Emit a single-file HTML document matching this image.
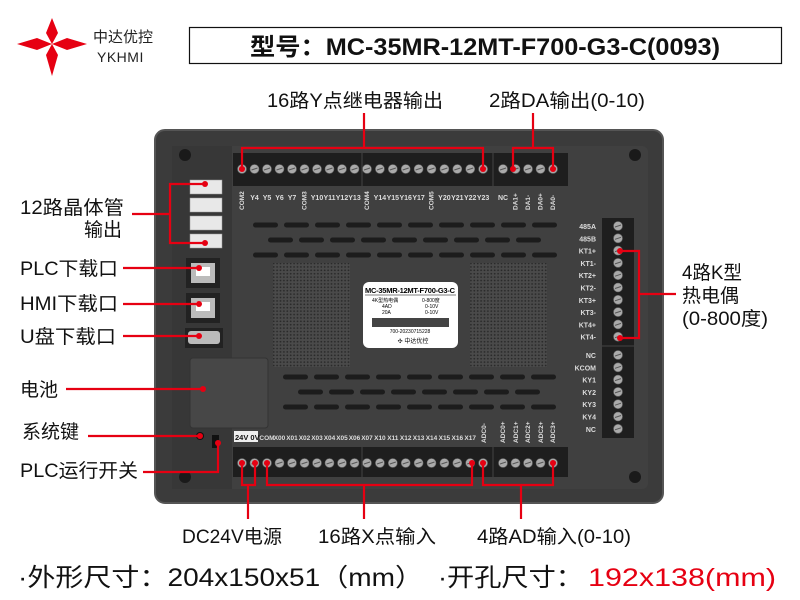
<!DOCTYPE html>
<html><head><meta charset="utf-8"><style>
html,body{margin:0;padding:0;background:#fff;width:800px;height:600px;overflow:hidden}
svg{display:block}
text{font-family:"Liberation Sans","Noto Sans CJK SC",sans-serif}
</style></head><body>
<svg id="s" width="800" height="600" viewBox="0 0 800 600" xmlns="http://www.w3.org/2000/svg">
<!-- logo -->
<g fill="#e60012">
<polygon points="52,18 58,33 52,44 46,33"/>
<polygon points="52,44 58,55 52,76 46,55"/>
<polygon points="17,44 37,38 52,44 37,50"/>
<polygon points="52,44 67,38 87,44 67,50"/>
</g>
<text x="93" y="42" font-size="15" fill="#222">中达优控</text>
<text x="97" y="62" font-size="14" fill="#222" letter-spacing="0.5">YKHMI</text>
<rect x="189.5" y="27.5" width="592" height="36" fill="#fff" stroke="#111" stroke-width="1.2"/>
<text x="485" y="55" font-size="24" font-weight="bold" text-anchor="middle" fill="#111" textLength="470" lengthAdjust="spacingAndGlyphs">型号：MC-35MR-12MT-F700-G3-C(0093)</text>
<!-- top labels -->
<g lengthAdjust="spacingAndGlyphs">
<text x="355" y="107" font-size="19" text-anchor="middle" fill="#111" textLength="176" lengthAdjust="spacingAndGlyphs">16路Y点继电器输出</text>
<text x="567" y="107" font-size="19" text-anchor="middle" fill="#111" textLength="156" lengthAdjust="spacingAndGlyphs">2路DA输出(0-10)</text>
</g>
<!-- device -->
<rect x="155" y="130" width="508" height="373" rx="10" fill="#3b3b3b" stroke="#555" stroke-width="2"/>
<rect x="172" y="146" width="476" height="343" rx="6" fill="#404040"/>
<rect x="172" y="146" width="60" height="343" fill="#373737"/>
<rect x="233" y="153" width="335" height="33" fill="#1e1e1e"/>
<rect x="233" y="447" width="335" height="30" fill="#1e1e1e"/>
<rect x="602" y="218" width="32" height="220" fill="#1e1e1e"/>
<circle cx="185" cy="155" r="6" fill="#1a1a1a"/><circle cx="635" cy="155" r="6" fill="#1a1a1a"/>
<circle cx="185" cy="477" r="6" fill="#1a1a1a"/><circle cx="635" cy="477" r="6" fill="#1a1a1a"/>
<defs><pattern id="dots" width="3.4" height="3.4" patternUnits="userSpaceOnUse"><rect width="3.4" height="3.4" fill="#4a4a4a"/><circle cx="1.7" cy="1.7" r="0.9" fill="#2a2a2a"/></pattern></defs>
<rect x="273" y="263" width="77" height="104" fill="url(#dots)"/>
<rect x="470" y="263" width="77" height="104" fill="url(#dots)"/>
<!-- label -->
<rect x="363" y="282" width="95" height="66" rx="6" fill="#fff"/>
<text x="410" y="293" font-size="7.5" font-weight="bold" text-anchor="middle" textLength="90">MC-35MR-12MT-F700-G3-C</text>
<line x1="365" y1="295" x2="456" y2="295" stroke="#000" stroke-width="0.6"/>
<text x="372" y="302" font-size="5">4K型热电偶</text><text x="422" y="302" font-size="5">0-800度</text>
<text x="382" y="308" font-size="5">4AD</text><text x="425" y="308" font-size="5">0-10V</text>
<text x="382" y="314" font-size="5">20A</text><text x="425" y="314" font-size="5">0-10V</text>
<rect x="372" y="318" width="77" height="9" fill="#444"/>
<text x="410" y="333" font-size="5" text-anchor="middle">700-20230715228</text>
<text x="413" y="343" font-size="6" text-anchor="middle">✣ 中达优控</text>
<!-- left components -->
<g fill="#e8e8e8" stroke="#999" stroke-width="0.5">
<rect x="190" y="180" width="32" height="14"/><rect x="190" y="198" width="32" height="14"/>
<rect x="190" y="216" width="32" height="14"/><rect x="190" y="234" width="32" height="14"/>
</g>
<rect x="186" y="258" width="34" height="30" fill="#222"/><rect x="191" y="263" width="24" height="20" fill="#bbb"/><rect x="196" y="267" width="14" height="9" fill="#fff"/>
<rect x="186" y="293" width="34" height="30" fill="#222"/><rect x="191" y="298" width="24" height="20" fill="#bbb"/><rect x="196" y="302" width="14" height="9" fill="#fff"/>
<rect x="185" y="328" width="38" height="20" fill="#222"/><rect x="188" y="331" width="32" height="13" rx="3" fill="#bbb"/>
<rect x="190" y="358" width="78" height="70" rx="3" fill="#474747" stroke="#333"/>
<circle cx="200" cy="436" r="4" fill="#111"/><rect x="212" y="435" width="7" height="13" fill="#111"/>
<g id="dyn"></g>
<!-- red connectors -->
<g stroke="#e60012" stroke-width="2.2" fill="none">
<polyline points="364,113 364,148"/><polyline points="242,169 242,148 483,148 483,169"/>
<polyline points="533,113 533,148"/><polyline points="513,169 513,148 553,148 553,169"/>
<polyline points="132,214 170,214"/><polyline points="205,184 170,184 170,243 205,243"/>
<line x1="123" y1="268" x2="199" y2="268"/><line x1="123" y1="304" x2="199" y2="304"/>
<line x1="123" y1="336" x2="199" y2="336"/><line x1="66" y1="389" x2="203" y2="389"/>
<line x1="88" y1="436" x2="200" y2="436"/><polyline points="143,472 218,472 218,443"/>
<polyline points="620,251 639,251 639,338 620,338"/><line x1="639" y1="294" x2="676" y2="294"/>
<polyline points="242,463 242,485 255,485 255,463"/><line x1="248" y1="485" x2="248" y2="519"/>
<polyline points="267,463 267,485 472,485 472,463"/><line x1="364" y1="485" x2="364" y2="519"/>
<polyline points="483,463 483,485 553,485 553,463"/><line x1="521" y1="485" x2="521" y2="519"/>
</g>
<g fill="#e60012">
<circle cx="242" cy="169" r="3"/><circle cx="483" cy="169" r="3"/><circle cx="513" cy="169" r="3"/><circle cx="553" cy="169" r="3"/>
<circle cx="205" cy="184" r="3"/><circle cx="205" cy="243" r="3"/><circle cx="199" cy="268" r="3"/><circle cx="199" cy="304" r="3"/>
<circle cx="199" cy="336" r="3"/><circle cx="203" cy="389" r="3"/><circle cx="200" cy="436" r="3"/><circle cx="218" cy="443" r="3"/>
<circle cx="620" cy="251" r="3"/><circle cx="620" cy="338" r="3"/>
<circle cx="242" cy="463" r="3"/><circle cx="255" cy="463" r="3"/><circle cx="267" cy="463" r="3"/><circle cx="472" cy="463" r="3"/><circle cx="483" cy="463" r="3"/><circle cx="553" cy="463" r="3"/>
</g>
<!-- labels -->
<g font-size="19" fill="#111">
<text x="20" y="214" textLength="104" lengthAdjust="spacingAndGlyphs">12路晶体管</text><text x="84" y="236">输出</text>
<text x="20" y="275" textLength="98" lengthAdjust="spacingAndGlyphs">PLC下载口</text><text x="20" y="310" textLength="98" lengthAdjust="spacingAndGlyphs">HMI下载口</text>
<text x="20" y="343" textLength="96" lengthAdjust="spacingAndGlyphs">U盘下载口</text><text x="20" y="396">电池</text>
<text x="22" y="438">系统键</text><text x="20" y="477" textLength="118" lengthAdjust="spacingAndGlyphs">PLC运行开关</text>
<text x="682" y="279" textLength="60" lengthAdjust="spacingAndGlyphs">4路K型</text><text x="682" y="302">热电偶</text><text x="682" y="325" textLength="86" lengthAdjust="spacingAndGlyphs">(0-800度)</text>
<text x="232" y="543" text-anchor="middle" textLength="100" lengthAdjust="spacingAndGlyphs">DC24V电源</text>
<text x="377" y="543" text-anchor="middle" textLength="118" lengthAdjust="spacingAndGlyphs">16路X点输入</text>
<text x="554" y="543" text-anchor="middle" textLength="154" lengthAdjust="spacingAndGlyphs">4路AD输入(0-10)</text>
</g>
<g font-size="25" fill="#111">
<text x="18" y="586" textLength="405" lengthAdjust="spacingAndGlyphs">·外形尺寸：204x150x51（mm）</text>
<text x="438" y="586" textLength="145" lengthAdjust="spacingAndGlyphs">·开孔尺寸：</text>
<text x="588" y="586" fill="#e60012" textLength="188" lengthAdjust="spacingAndGlyphs">192x138(mm)</text>
</g>
</svg>
<script>
var g=document.getElementById('dyn'),NS='http://www.w3.org/2000/svg';
function el(t,a,txt){var e=document.createElementNS(NS,t);for(var k in a)e.setAttribute(k,a[k]);if(txt)e.textContent=txt;g.appendChild(e);return e;}
function screw(x,y){el('circle',{cx:x,cy:y,r:4.5,fill:'#aaa',stroke:'#666','stroke-width':0.6});el('line',{x1:x-3,y1:y+1,x2:x+3,y2:y-1,stroke:'#555','stroke-width':1});}
var xs=[];for(var i=0;i<10;i++)xs.push(242+i*12.5);for(i=0;i<10;i++)xs.push(367+i*12.9);for(i=0;i<5;i++)xs.push(503+i*12.5);
xs.forEach(function(x){screw(x,169);screw(x,463);});
el('line',{x1:362,y1:153,x2:362,y2:186,stroke:'#444'});el('line',{x1:493,y1:153,x2:493,y2:186,stroke:'#444'});
el('line',{x1:362,y1:447,x2:362,y2:477,stroke:'#444'});el('line',{x1:493,y1:447,x2:493,y2:477,stroke:'#444'});
var tl=['COM2','Y4','Y5','Y6','Y7','COM3','Y10','Y11','Y12','Y13','COM4','Y14','Y15','Y16','Y17','COM5','Y20','Y21','Y22','Y23','NC','DA1+','DA1-','DA0+','DA0-'];
tl.forEach(function(t,i){if(t.length>3){el('text',{x:0,y:0,'font-size':6.5,fill:'#ddd','font-weight':'bold',transform:'translate('+(xs[i]+2)+',210) rotate(-90)'},t);}else el('text',{x:xs[i],y:200,'font-size':7,fill:'#ddd','font-weight':'bold','text-anchor':'middle'},t);});
el('rect',{x:234,y:431,width:24,height:11,fill:'#eee'});
el('text',{x:235,y:440,'font-size':7.5,fill:'#111','font-weight':'bold'},'24V 0V');
var bl=['COM','X00','X01','X02','X03','X04','X05','X06','X07','X10','X11','X12','X13','X14','X15','X16','X17'];
bl.forEach(function(t,i){el('text',{x:xs[i+2],y:440,'font-size':6.5,fill:'#ddd','font-weight':'bold','text-anchor':'middle'},t);});
['ADC0-','ADC0+','ADC1+','ADC2+','ADC2+','ADC3+'].forEach(function(t,i){var x=[484,503,516,528,541,553][i];el('text',{x:0,y:0,'font-size':6.5,fill:'#ddd','font-weight':'bold',transform:'translate('+(x+2)+',443) rotate(-90)'},t);});
var rl=['485A','485B','KT1+','KT1-','KT2+','KT2-','KT3+','KT3-','KT4+','KT4-'];
rl.forEach(function(t,i){var y=226+i*12.3;screw(618,y);el('text',{x:596,y:y+3,'font-size':7,fill:'#ddd','font-weight':'bold','text-anchor':'end'},t);});
['NC','KCOM','KY1','KY2','KY3','KY4','NC'].forEach(function(t,i){var y=355+i*12.3;screw(618,y);el('text',{x:596,y:y+3,'font-size':7,fill:'#ddd','font-weight':'bold','text-anchor':'end'},t);});
el('line',{x1:602,y1:346,x2:634,y2:346,stroke:'#444'});
function slots(y,x0,n){for(var i=0;i<n;i++)el('rect',{x:x0+i*31,y:y-2.5,width:25,height:5,rx:2.5,fill:'#1c1c1c'});}
slots(225,253,10);slots(240,268,9);slots(255,253,10);
slots(377,283,9);slots(392,298,8);slots(407,283,9);
</script>
</body></html>
